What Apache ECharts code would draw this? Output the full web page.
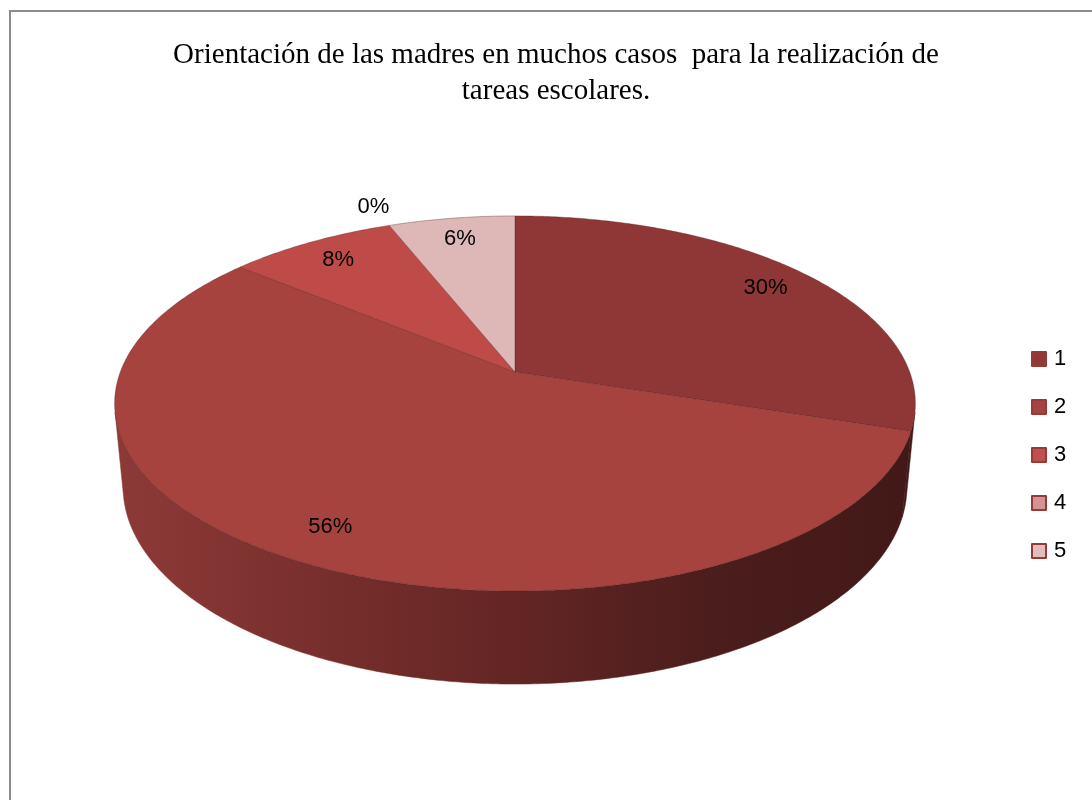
<!DOCTYPE html>
<html>
<head>
<meta charset="utf-8">
<script src="https://cdn.jsdelivr.net/npm/echarts@6/dist/echarts.min.js"></script>
<style>
  html, body { margin: 0; background: #fff; }
  #chart { width: 1092px; height: 800px; }
</style>
</head>
<body>
<div id="chart"></div>
<script>
  // data
  var categories = ['1', '2', '3', '4', '5']
  var shares = [30, 56, 8, 0, 6]
  var sliceColors = ['#8e3736', '#a6433f', '#be4b48', '#d49592', '#ddb8b7']
  var legendColors = ['#8e3a38', '#a6433f', '#c0504d', '#d49592', '#dfbebd']
  var titleText = 'Orientación de las madres en muchos casos  para la realización de\ntareas escolares.'

  // fake 3d view of the pie (perspective camera looking down on a disc)
  var view = {cx: 515, cy: 372, F: 2088, D: 5.29, tilt: 27.5 * Math.PI / 180, thick: 0.24}
  var cosT = Math.cos(view.tilt)
  var sinT = Math.sin(view.tilt)

  function project(x, y, z) {
    var up = y * cosT - z * sinT
    var d = view.D - (z * cosT + y * sinT)
    return [view.cx + view.F * x / d, view.cy - view.F * up / d]
  }
  function rimPoint(angle, r, y) {
    return project(r * Math.sin(angle), y, -r * Math.cos(angle))
  }

  var total = shares.reduce(function(a, b) { return a + b }, 0)
  function sliceAngles(i) {
    var before = 0
    for (var k = 0; k < i; k++) before += shares[k]
    var a0 = before / total * Math.PI * 2
    return [a0, a0 + shares[i] / total * Math.PI * 2]
  }

  // part of the outer wall that faces the camera
  var visFrom = Math.acos(-1 / (view.D * cosT))
  var visTo = Math.PI * 2 - visFrom

  var sideFill = {
    type: 'linear', x: 114, y: 0, x2: 916, y2: 0, global: true,
    colorStops: [
      {offset: 0, color: '#8d3a37'},
      {offset: 0.35, color: '#702b29'},
      {offset: 0.55, color: '#5e2423'},
      {offset: 0.75, color: '#4b1d1c'},
      {offset: 1, color: '#421918'}
    ]
  }

  function renderSide(params, api) {
    var ang = sliceAngles(params.dataIndex)
    var lo = Math.max(ang[0], visFrom)
    var hi = Math.min(ang[1], visTo)
    if (hi <= lo) return null
    var n = Math.max(2, Math.ceil((hi - lo) / 0.01))
    var pts = []
    for (var k = 0; k <= n; k++) pts.push(rimPoint(lo + (hi - lo) * k / n, 1, 0))
    for (var j = n; j >= 0; j--) pts.push(rimPoint(lo + (hi - lo) * j / n, 1, -view.thick))
    return {
      type: 'polygon',
      shape: {points: pts},
      style: {fill: sideFill, stroke: sideFill, lineWidth: 0.5}
    }
  }

  function renderTop(params, api) {
    var i = params.dataIndex
    var val = api.value(0)
    var ang = sliceAngles(i)
    var children = []
    if (ang[1] > ang[0]) {
      var n = Math.max(2, Math.ceil((ang[1] - ang[0]) / 0.01))
      var pts = [project(0, 0, 0)]
      for (var k = 0; k <= n; k++) pts.push(rimPoint(ang[0] + (ang[1] - ang[0]) * k / n, 1, 0))
      children.push({
        type: 'polygon',
        shape: {points: pts},
        style: {fill: sliceColors[i], stroke: 'rgba(90,30,28,0.45)', lineWidth: 0.8}
      })
    }
    var mid = (ang[0] + ang[1]) / 2
    var lp = rimPoint(mid, val > 0 ? 0.85 : 1.15, 0)
    children.push({
      type: 'text',
      z2: 10,
      x: lp[0],
      y: lp[1],
      style: {
        text: val + '%',
        fontSize: 22,
        fontFamily: 'Liberation Sans',
        fill: '#000',
        align: 'center',
        verticalAlign: 'middle'
      }
    })
    return {type: 'group', children: children}
  }

  var chart = echarts.init(document.getElementById('chart'))
  var sliceData = shares.map(function(v, i) {
    return {name: categories[i], value: v}
  })
  var option = {
    backgroundColor: '#fff',
    animation: false,
    title: {
      text: titleText,
      left: 551,
      top: 32,
      textAlign: 'center',
      textStyle: {
        fontFamily: 'Liberation Serif',
        fontSize: 29,
        fontWeight: 'normal',
        color: '#000',
        lineHeight: 36
      }
    },
    legend: {
      orient: 'vertical',
      left: 1031,
      top: 348,
      padding: 0,
      itemWidth: 14,
      itemHeight: 14,
      itemGap: 26,
      icon: 'rect',
      selectedMode: false,
      textStyle: {
        fontFamily: 'Liberation Sans',
        fontSize: 22,
        color: '#000',
        lineHeight: 22,
        padding: [0, 0, 0, 3]
      },
      data: categories
    },
    graphic: [{
      type: 'rect',
      shape: {x: 10, y: 11, width: 1200, height: 1000},
      style: {fill: 'none', stroke: '#8c8c8c', lineWidth: 2},
      silent: true
    }],
    series: [
      {
        // only here to feed the legend
        type: 'pie',
        radius: [0, 0],
        silent: true,
        label: {show: false},
        labelLine: {show: false},
        data: categories.map(function(c, i) {
          return {
            name: c,
            value: shares[i],
            itemStyle: {color: legendColors[i], borderColor: '#983a37', borderWidth: 1}
          }
        })
      },
      {
        type: 'custom',
        coordinateSystem: 'none',
        z: 2,
        silent: true,
        renderItem: renderSide,
        data: sliceData
      },
      {
        type: 'custom',
        coordinateSystem: 'none',
        z: 3,
        silent: true,
        renderItem: renderTop,
        data: sliceData
      }
    ]
  }
  chart.setOption(option)
</script>
</body>
</html>
